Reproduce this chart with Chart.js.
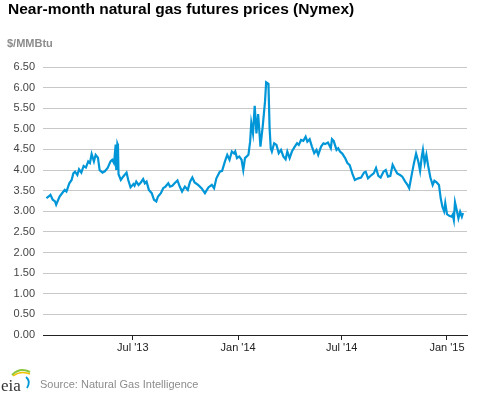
<!DOCTYPE html>
<html>
<head>
<meta charset="utf-8">
<script src="https://cdn.jsdelivr.net/npm/chart.js@4"></script>
<style>
  body { margin: 0; background: #fff; }
  #wrap { position: relative; width: 477px; height: 393px; font-family: Arial, "Liberation Sans", sans-serif; }
  #chart { position: absolute; left: 0; top: 0; }
  .title { position: absolute; left: 8px; top: 0px; font-size: 15.5px; font-weight: bold; color: #000; white-space: nowrap; }
  .units { position: absolute; left: 7px; top: 37px; font-size: 11px; font-weight: bold; color: #8c8c8c; }
  .source { position: absolute; left: 40px; top: 378px; font-size: 11px; color: #8c8c8c; white-space: nowrap; }
  #logo { position: absolute; left: 0; top: 366px; }
</style>
</head>
<body>
<div id="wrap">
  <canvas id="chart" width="477" height="393"></canvas>
  <div class="title">Near-month natural gas futures prices (Nymex)</div>
  <div class="units">$/MMBtu</div>
  <svg id="logo" width="34" height="27" viewBox="0 0 34 27">
    <path d="M12 9 Q20 1 30 6" stroke="#8cc63f" stroke-width="2" fill="none"/>
    <path d="M13 10 Q21 4 30 8" stroke="#f2c200" stroke-width="1.5" fill="none"/>
    <path d="M26 11 Q31 15 27 22" stroke="#0096d7" stroke-width="1.8" fill="none"/>
    <text x="1" y="25" font-family="Liberation Serif, serif" font-size="17" fill="#333">eia</text>
  </svg>
  <div class="source">Source: Natural Gas Intelligence</div>
</div>
<script>
// days since 2013-01-01
const days = [30, 34, 37, 41, 45, 47, 50, 53, 58, 62, 65, 70, 74, 77, 80, 84, 87, 91, 95, 99,
  103, 106, 109, 113, 116, 120, 123, 128, 132, 137, 142, 145, 148, 149, 151, 152, 154, 155, 156, 160,
  164, 170, 173, 177, 182, 184, 187, 191, 195, 199, 202, 205, 209, 214, 218, 222, 225, 230, 234, 238,
  243, 246, 250, 254, 259, 263, 267, 272, 277, 281, 285, 289, 295, 301, 307, 313, 319, 323, 327, 333,
  337, 342, 346, 350, 354, 358, 360, 363, 367, 371, 374, 377, 383, 386, 388, 391, 394, 397, 400, 404,
  408, 412, 414, 418, 420, 422, 424, 428, 432, 436, 440, 444, 448, 451, 455, 459, 464, 468, 471, 475,
  479, 483, 486, 490, 494, 498, 502, 505, 510, 514, 517, 522, 527, 529, 532, 537, 540, 543, 547, 552,
  556, 560, 565, 569, 575, 580, 585, 588, 592, 598, 602, 606, 610, 614, 619, 623, 627, 631, 635, 639,
  643, 648, 652, 657, 661, 664, 668, 672, 676, 680, 683, 686, 688, 691, 694, 697, 701, 705, 708, 712,
  716, 719, 722, 725, 727, 730, 734, 738, 740, 742, 744, 747, 750, 753, 756, 758];

const prices = [3.32, 3.36, 3.40, 3.28, 3.24, 3.16, 3.26, 3.36, 3.45, 3.52, 3.48, 3.68, 3.76, 3.92, 3.96, 3.88, 4.02, 3.94, 4.10, 4.06,
  4.21, 4.17, 4.39, 4.21, 4.37, 4.30, 4.00, 3.94, 3.97, 4.05, 4.21, 4.25, 4.17, 4.30, 4.62, 4.00, 4.64, 4.60, 3.90, 3.76,
  3.84, 3.94, 3.76, 3.58, 3.66, 3.62, 3.72, 3.64, 3.70, 3.78, 3.68, 3.72, 3.52, 3.44, 3.28, 3.24, 3.36, 3.44, 3.56, 3.60,
  3.68, 3.60, 3.62, 3.68, 3.75, 3.60, 3.48, 3.60, 3.52, 3.72, 3.82, 3.70, 3.64, 3.56, 3.44, 3.58, 3.64, 3.56, 3.80, 3.96,
  3.98, 4.21, 4.37, 4.25, 4.45, 4.40, 4.45, 4.29, 4.33, 4.25, 4.00, 4.29, 4.37, 4.69, 5.14, 4.89, 5.56, 4.89, 5.36, 4.57,
  5.06, 5.66, 6.13, 6.09, 5.02, 4.53, 4.45, 4.65, 4.61, 4.41, 4.49, 4.33, 4.26, 4.45, 4.29, 4.45, 4.57, 4.65, 4.61, 4.73,
  4.71, 4.81, 4.69, 4.75, 4.57, 4.41, 4.49, 4.37, 4.57, 4.65, 4.63, 4.67, 4.53, 4.75, 4.71, 4.49, 4.53, 4.45, 4.40, 4.29,
  4.17, 4.12, 3.90, 3.76, 3.80, 3.82, 3.94, 3.96, 3.80, 3.88, 3.92, 4.05, 3.86, 3.82, 3.96, 4.00, 3.84, 3.86, 4.13, 4.02,
  3.92, 3.88, 3.84, 3.72, 3.64, 3.56, 3.86, 4.15, 4.40, 4.20, 3.98, 4.33, 4.49, 4.17, 4.37, 4.11, 3.82, 3.64, 3.74, 3.70,
  3.64, 3.32, 3.11, 3.00, 3.20, 2.93, 2.89, 2.87, 2.92, 2.79, 3.22, 3.03, 2.83, 2.99, 2.87, 2.96];

const tickDays = [181, 365, 546, 730];
const tickLabels = ["Jul '13", "Jan '14", "Jul '14", "Jan '15"];

const points = days.map((d, i) => ({ x: d, y: prices[i] }));

const ctx = document.getElementById('chart');

new Chart(ctx, {
  type: 'line',
  data: {
    datasets: [
      {
        label: 'Near-month futures',
        data: points,
        borderColor: '#0096d7',
        borderWidth: 2.2,
        pointRadius: 0,
        tension: 0,
        fill: false
      }
    ]
  },
  options: {
    responsive: false,
    animation: false,
    layout: {
      padding: { top: 67, right: 10, bottom: 0, left: 0 }
    },
    plugins: {
      legend: { display: false },
      tooltip: { enabled: false }
    },
    scales: {
      x: {
        type: 'linear',
        min: 24,
        max: 765,
        afterBuildTicks: (scale) => {
          scale.ticks = tickDays.map(v => ({ value: v }));
        },
        afterFit: (scale) => { scale.height = 58; },
        ticks: {
          autoSkip: false,
          maxRotation: 0,
          padding: 1,
          color: '#222',
          font: { family: 'Arial', size: 11 },
          callback: (value) => {
            const i = tickDays.indexOf(value);
            return i >= 0 ? tickLabels[i] : '';
          }
        },
        grid: {
          drawOnChartArea: false,
          drawTicks: true,
          tickLength: 5,
          color: '#222'
        },
        border: { display: true, color: '#222', width: 1 }
      },
      y: {
        min: 0,
        max: 6.5,
        afterFit: (scale) => { scale.width = 43; },
        ticks: {
          stepSize: 0.5,
          padding: 8,
          color: '#444',
          font: { family: 'Arial', size: 11 },
          callback: (value) => value.toFixed(2)
        },
        grid: {
          color: '#c8c8c8',
          drawTicks: false
        },
        border: { display: false }
      }
    }
  }
});
</script>
</body>
</html>
